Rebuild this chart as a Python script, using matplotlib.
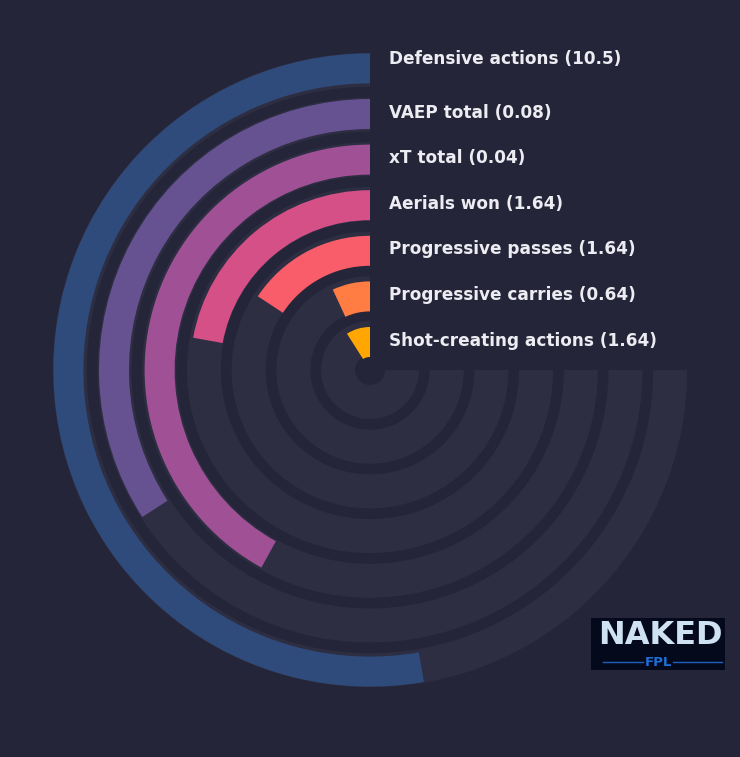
import numpy as np
import matplotlib
matplotlib.use("Agg")
import matplotlib.pyplot as plt

# ---- data (outermost first) ----
metrics = ["Defensive actions", "VAEP total", "xT total", "Aerials won",
           "Progressive passes", "Progressive carries", "Shot-creating actions"]
values = ["10.5", "0.08", "0.04", "1.64", "1.64", "0.64", "1.64"]
percent = [70.3, 45.5, 56.0, 29.5, 21.0, 9.2, 12.0]   # share of the 270-degree track
colors = ["#2f4b7c", "#665191", "#a05195", "#d45087", "#f95d6a", "#ff7c43", "#ffa600"]

BG = "#252539"
TRACK = "#2e2e43"
W, H = 740, 757

fig = plt.figure(figsize=(W / 100, H / 100), dpi=100, facecolor=BG)

cx, cy, R = 370, 370, 320
ax = fig.add_axes([(cx - R) / W, (H - cy - R) / H, 2 * R / W, 2 * R / H],
                  projection="polar", facecolor=BG)
ax.set_theta_zero_location("N")
ax.set_theta_direction(1)
ax.set_rlim(0, R)
ax.set_xticks([])
ax.set_yticks([])
ax.grid(False)
ax.spines["polar"].set_visible(False)
ax.set_facecolor(BG)

full = 1.5 * np.pi
n = len(metrics)
for k in range(n):
    i = n - 1 - k  # ring index from inside
    t_in = 15 + 44.7 * i
    ax.bar(0, 34, width=full, bottom=t_in, align="edge", color=TRACK,
           edgecolor="none", zorder=1)
    b_in = 13 + 45.6 * i
    ax.bar(0, 30, width=full * percent[k] / 100.0, bottom=b_in, align="edge",
           color=colors[k], edgecolor="none", zorder=2)

# labels
label_y = [58.5, 112.5, 158, 204, 249.5, 295, 340.5]
for k in range(n):
    fig.text(389 / W, 1 - label_y[k] / H, f"{metrics[k]} ({values[k]})",
             color="#ececf2", fontsize=12.2, fontweight="bold",
             family="DejaVu Sans", ha="left", va="center")

# logo
lx, ly, lw, lh = 591, 618, 134, 52
lax = fig.add_axes([lx / W, 1 - (ly + lh) / H, lw / W, lh / H])
lax.set_facecolor("#040a1c")
lax.set_xlim(0, 1)
lax.set_ylim(0, 1)
lax.set_xticks([])
lax.set_yticks([])
for s in lax.spines.values():
    s.set_visible(False)
lax.text(0.52, 0.66, "NAKED", color="#cfe2f3", fontsize=23, fontweight="bold",
         ha="center", va="center", family="DejaVu Sans")
lax.text(0.5, 0.15, "FPL", color="#1f6fd8", fontsize=9.5, fontweight="bold",
         ha="center", va="center", family="DejaVu Sans")
lax.plot([0.09, 0.39], [0.16, 0.16], color="#1f5fbf", lw=1)
lax.plot([0.61, 0.98], [0.16, 0.16], color="#1f5fbf", lw=1)

fig.savefig("out.png", dpi=100, facecolor=BG)
